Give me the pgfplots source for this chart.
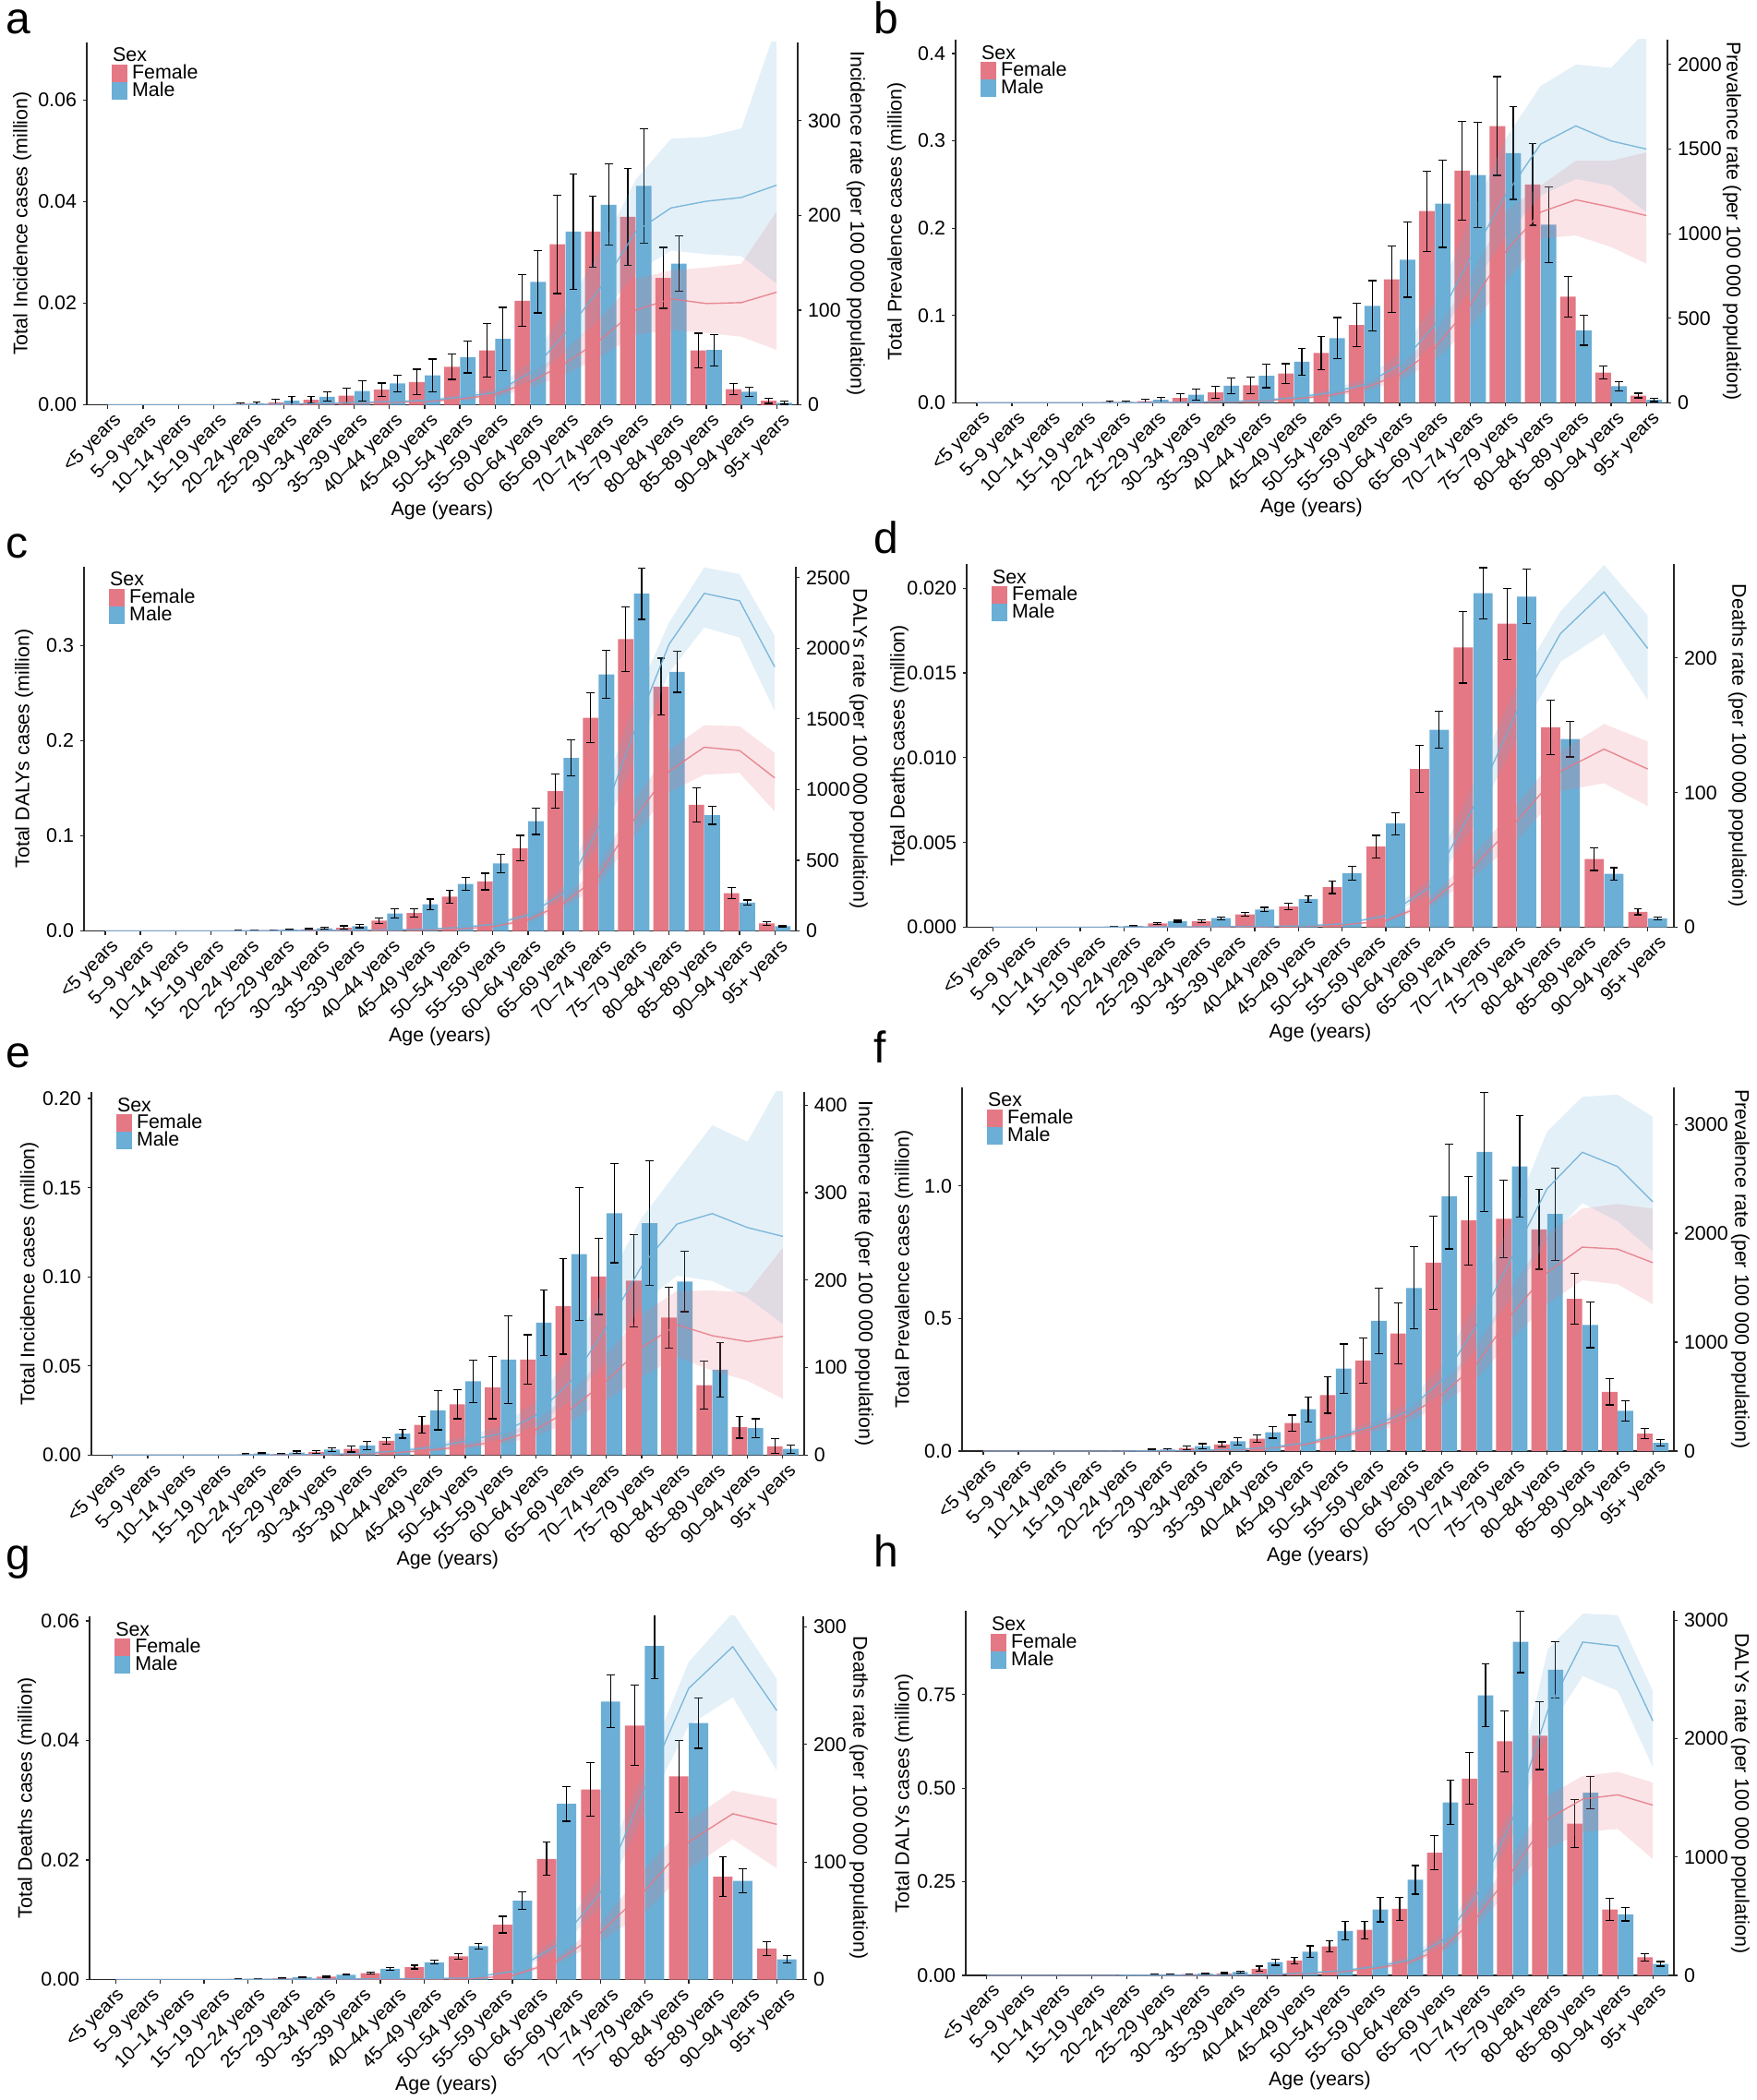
\documentclass[border=0pt]{standalone}
\usepackage{fontspec}
\setmainfont{Liberation Sans}
\usepackage{pgfplots}
\usepackage{pgfplotstable}
\pgfplotsset{compat=1.18}
\definecolor{fcol}{RGB}{228,120,133}
\definecolor{mcol}{RGB}{107,174,214}
\newcommand\fs{\fontsize{10.7}{12}\selectfont}
\newcommand\fx{\fontsize{10.2}{12}\selectfont}

% columns: x F Fe M Me Fr Frl Frh Mr Mrl Mrh
\pgfplotstableread{
x F Fe M Me Fr Frl Frh Mr Mrl Mrh
0 nan 0 nan 0 0 0 0 0 0 0
1 nan 0 nan 0 0 0 0 0 0 0
2 nan 0 nan 0 0 0 0 0 0 0
3 nan 0 nan 0 0 0 0 0 0 0
4 0.0002 0.0002 0.0003 0.0003 0.2 0.15 0.3 0.3 0.2 0.4
5 0.0005 0.0006 0.0008 0.0009 0.5 0.35 0.7 0.8 0.6 1.1
6 0.0010 0.0006 0.0016 0.0009 1 0.7 1.4 1.5 1.1 2
7 0.0018 0.0015 0.0027 0.0020 1.5 1.1 2 2.5 1.8 3.3
8 0.0030 0.0013 0.0042 0.0017 2.5 1.8 3.3 3.5 2.6 4.6
9 0.0045 0.0025 0.0058 0.0032 3.5 2.6 4.6 4.5 3.3 6
10 0.0075 0.0025 0.0094 0.0031 6 4.4 8 8 5.9 10.6
11 0.0107 0.0053 0.0130 0.0062 11 8 14.6 13 9.6 17.3
12 0.0205 0.0051 0.0242 0.0061 24 17.7 32 34 25 45
13 0.0316 0.0097 0.0341 0.0113 44 32.5 58.5 76 56 101
14 0.0341 0.0070 0.0394 0.0080 69 51 92 124 92 165
15 0.0370 0.0095 0.0431 0.0113 100 74 133 183 140 238
16 0.0250 0.0060 0.0278 0.0055 112 79 142 208 163 281
17 0.0107 0.0034 0.0108 0.0031 107 76 145 215 159 283
18 0.0031 0.0011 0.0026 0.0009 108 72 149 219 157 292
19 0.0008 0.0005 0.0004 0.0003 119 58 204 232 128 400
}\dataA

\pgfplotstableread{
x F Fe M Me Fr Frl Frh Mr Mrl Mrh
0 nan 0 nan 0 0 0 0 0 0 0
1 nan 0 nan 0 0 0 0 0 0 0
2 nan 0 nan 0 0 0 0 0 0 0
3 nan 0 nan 0 0 0 0 0 0 0
4 0.0008 0.0008 0.0011 0.0008 0.5 0.4 0.7 0.6 0.5 0.8
5 0.0020 0.0023 0.0034 0.0032 1 0.8 1.3 1.2 0.9 1.6
6 0.0057 0.0045 0.0094 0.0064 3 2.3 3.9 3.5 2.7 4.5
7 0.0120 0.0072 0.0196 0.0090 6 4.6 7.8 7 5.4 9
8 0.0200 0.0094 0.0310 0.0136 11 8.5 14 14 11 18
9 0.0336 0.0113 0.0470 0.0150 23 18 30 30 23 39
10 0.0570 0.0190 0.0740 0.0236 43 33 56 59 45 77
11 0.0890 0.0247 0.1110 0.0290 88 68 114 108 83 140
12 0.1415 0.0380 0.1640 0.0430 167 129 215 225 174 290
13 0.2196 0.0460 0.2280 0.0500 323 250 415 460 356 590
14 0.2660 0.0566 0.2610 0.0600 578 450 740 853 670 1090
15 0.3170 0.0566 0.2860 0.0530 892 710 1130 1225 980 1560
16 0.2500 0.0466 0.2040 0.0430 1127 970 1284 1529 1225 1872
17 0.1215 0.0230 0.0830 0.0170 1200 990 1431 1637 1323 2000
18 0.0347 0.0075 0.0190 0.0050 1157 921 1431 1548 1284 1980
19 0.0083 0.0026 0.0034 0.0019 1107 823 1480 1500 1127 2200
}\dataB

\pgfplotstableread{
x F Fe M Me Fr Frl Frh Mr Mrl Mrh
0 nan 0 nan 0 0 0 0 0 0 0
1 nan 0 nan 0 0 0 0 0 0 0
2 nan 0 nan 0 0 0 0 0 0 0
3 nan 0 nan 0 0 0 0 0 0 0
4 0.0003 0.0002 0.0007 0.0003 1 0.8 1.2 1.5 1.2 1.8
5 0.0007 0.0004 0.0014 0.0006 2 1.6 2.4 3 2.5 3.6
6 0.0017 0.0008 0.0028 0.0012 3 2.5 3.6 4 3.3 4.8
7 0.0035 0.0020 0.0052 0.0017 4 3.3 4.8 6 5 7.2
8 0.0110 0.0030 0.0184 0.0047 5 4.2 6 8 6.6 9.6
9 0.0190 0.0043 0.0280 0.0055 8 6.6 9.6 12 10 14.4
10 0.0360 0.0068 0.0495 0.0068 14 11.6 16.8 24 20 29
11 0.0520 0.0087 0.0710 0.0095 31 26 37 47 39 56
12 0.0870 0.0135 0.1153 0.0139 78 65 93 113 94 135
13 0.1470 0.0180 0.1818 0.0187 196 163 233 267 222 318
14 0.2240 0.0260 0.2695 0.0250 385 322 455 728 610 860
15 0.3066 0.0340 0.3543 0.0270 787 670 915 1402 1200 1620
16 0.2567 0.0300 0.2722 0.0215 1130 983 1277 2028 1827 2182
17 0.1327 0.0180 0.1216 0.0095 1300 1106 1456 2388 2147 2572
18 0.0398 0.0055 0.0298 0.0028 1277 1118 1449 2336 2076 2525
19 0.0080 0.0019 0.0052 0.0007 1083 846 1260 1868 1556 2087
}\dataC

\pgfplotstableread{
x F Fe M Me Fr Frl Frh Mr Mrl Mrh
0 nan 0 nan 0 0 0 0 0 0 0
1 nan 0 nan 0 0 0 0 0 0 0
2 nan 0 nan 0 0 0 0 0 0 0
3 0.00003 0.00001 0.00008 0.00002 0.1 0.08 0.12 0.2 0.16 0.24
4 0.00023 0.00004 0.00036 0.00005 0.2 0.17 0.24 0.3 0.25 0.36
5 0.00036 0.00007 0.00054 0.00008 0.3 0.25 0.36 0.5 0.42 0.6
6 0.00076 0.00012 0.00105 0.00013 0.5 0.42 0.6 0.8 0.67 0.96
7 0.00123 0.00018 0.00167 0.00020 0.7 0.58 0.84 1.0 0.84 1.2
8 0.00236 0.00037 0.00320 0.00040 1.7 1.4 2 2.5 2.1 3
9 0.00476 0.00066 0.00612 0.00065 4.9 4.1 5.9 8.6 7.2 10.3
10 0.00933 0.00139 0.01164 0.00109 18 15 21.6 29.6 25 35.5
11 0.01650 0.00210 0.01970 0.00150 44.3 37 53 88.7 75 106
12 0.01790 0.00210 0.01950 0.00160 78.8 64 91 160 140 180
13 0.01180 0.00160 0.01110 0.00105 115.8 101 130.5 218 197 234.5
14 0.00402 0.00067 0.00315 0.00037 132.3 107 151 249 218 269
15 0.00091 0.00017 0.00052 0.00010 117.5 90 138 207 168.7 231.5
}\dataD

\pgfplotstableread{
x F Fe M Me Fr Frl Frh Mr Mrl Mrh
0 nan 0 nan 0 0 0 0 0 0 0
1 nan 0 nan 0 0 0 0 0 0 0
2 nan 0 nan 0 0 0 0 0 0 0
3 nan 0 nan 0 0 0 0 0 0 0
4 0.0004 0.0003 0.0009 0.0004 0.1 0.07 0.14 0.3 0.2 0.4
5 0.0007 0.0005 0.0015 0.0008 0.2 0.15 0.28 0.5 0.37 0.68
6 0.0018 0.0006 0.0031 0.0009 0.5 0.37 0.68 0.8 0.6 1.1
7 0.0035 0.0017 0.0054 0.0025 1.2 0.9 1.6 1.9 1.4 2.6
8 0.0081 0.0019 0.0120 0.0025 2.7 2 3.6 4.5 3.3 6
9 0.0170 0.0045 0.0251 0.0109 5.7 4.2 7.7 8.7 6.4 11.7
10 0.0285 0.0081 0.0414 0.0118 10 7.4 13.5 16 11.8 21.6
11 0.0379 0.0175 0.0536 0.0245 16.3 12 22 24.6 18 33
12 0.0536 0.0139 0.0743 0.0183 29 21.5 39 45.5 33.7 61
13 0.0835 0.0269 0.1128 0.0372 53 39 71.5 85 63 115
14 0.1002 0.0213 0.1357 0.0278 85 63 115 146 108 197
15 0.0978 0.0260 0.1301 0.0348 123 89 161 216 172.5 271
16 0.0771 0.0171 0.0974 0.0169 149 112 187.7 264 205 324
17 0.0392 0.0134 0.0479 0.0154 136.5 96.7 188 276 199 377
18 0.0157 0.0062 0.0152 0.0052 129.7 85 186 260 180 358
19 0.0050 0.0042 0.0035 0.0023 135.7 64.5 237 250 150 430
}\dataE

\pgfplotstableread{
x F Fe M Me Fr Frl Frh Mr Mrl Mrh
0 nan 0 nan 0 0 0 0 0 0 0
1 nan 0 nan 0 0 0 0 0 0 0
2 nan 0 nan 0 0 0 0 0 0 0
3 nan 0 nan 0 0 0 0 0 0 0
4 0.001 0.001 0.0015 0.0015 0.3 0.24 0.36 0.4 0.32 0.48
5 0.004 0.003 0.006 0.004 1 0.8 1.2 2 1.6 2.4
6 0.012 0.006 0.019 0.009 3 2.4 3.6 5 4 6
7 0.025 0.010 0.037 0.014 9 7.4 10.8 15 12 18
8 0.047 0.015 0.071 0.022 24 20 29 30 25 36
9 0.106 0.030 0.158 0.047 55 45 66 68 56 82
10 0.211 0.068 0.311 0.093 116 95 139 135 110 162
11 0.342 0.085 0.491 0.124 207 170 248 222 182 266
12 0.4435 0.115 0.615 0.155 314 257 377 359 294 431
13 0.7106 0.175 0.960 0.1975 512 420 614 649 532 779
14 0.8696 0.167 1.128 0.2255 801 657 961 1151 944 1381
15 0.8758 0.146 1.073 0.192 1258 1032 1510 1776 1425 2141
16 0.836 0.150 0.894 0.174 1639 1349 1989 2409 1928 2933
17 0.574 0.095 0.476 0.086 1873 1569 2227 2744 2278 3253
18 0.2236 0.0497 0.1516 0.0379 1855 1532 2269 2613 2111 3274
19 0.0658 0.0186 0.031 0.0124 1730 1349 2227 2288 1837 3070
}\dataF

\pgfplotstableread{
x F Fe M Me Fr Frl Frh Mr Mrl Mrh
0 nan 0 nan 0 0 0 0 0 0 0
1 nan 0 nan 0 0 0 0 0 0 0
2 nan 0 nan 0 0 0 0 0 0 0
3 0.0001 0.00005 0.0001 0.00005 0.1 0.08 0.12 0.15 0.12 0.18
4 0.0002 0.00005 0.00044 0.00005 0.2 0.16 0.24 0.3 0.25 0.36
5 0.0005 0.0001 0.00083 0.0001 0.3 0.25 0.36 0.5 0.4 0.6
6 0.0011 0.0002 0.0018 0.0002 0.4 0.33 0.48 0.7 0.58 0.84
7 0.0021 0.0003 0.0029 0.0003 0.5 0.4 0.6 0.9 0.75 1.1
8 0.0039 0.0005 0.0056 0.0005 0.6 0.5 0.72 1.4 1.15 1.7
9 0.0092 0.0014 0.0132 0.0015 3.4 2.8 4.1 7 5.8 8.4
10 0.0202 0.0028 0.0294 0.0029 15.6 13 18.7 29 24 35
11 0.0318 0.0045 0.0465 0.0044 40 33 48 74 62 89
12 0.0425 0.0067 0.0558 0.0055 75.6 57 94 162 142 179
13 0.0340 0.0060 0.0429 0.0042 117 94 135 247.6 216 270
14 0.0172 0.0033 0.0165 0.0020 141 119.5 160.6 283 240 312
15 0.0052 0.0012 0.0034 0.0006 132 94.6 153.5 228.6 177.6 255.5
}\dataG

\pgfplotstableread{
x F Fe M Me Fr Frl Frh Mr Mrl Mrh
0 nan 0 nan 0 0 0 0 0 0 0
1 nan 0 nan 0 0 0 0 0 0 0
2 nan 0 nan 0 0 0 0 0 0 0
3 nan 0 nan 0 0 0 0 0 0 0
4 0.0005 0.0004 0.0010 0.0006 0.5 0.4 0.6 0.8 0.6 1
5 0.002 0.001 0.003 0.0015 1 0.8 1.2 1.5 1.2 1.8
6 0.0035 0.001 0.0044 0.002 1.5 1.2 1.8 2 1.6 2.4
7 0.0053 0.002 0.0088 0.003 2 1.6 2.4 3 2.5 3.6
8 0.0176 0.007 0.0352 0.008 6 5 7.2 8 6.6 9.6
9 0.0396 0.0088 0.0634 0.0154 14 11.6 16.8 20 16.6 24
10 0.0775 0.015 0.1188 0.0246 28 23 34 37 31 44
11 0.1215 0.0233 0.176 0.033 56 46 67 70 58 84
12 0.1778 0.0308 0.2553 0.0383 105 87 126 126 105 151
13 0.3275 0.0453 0.462 0.0594 230 193 275 295 250 350
14 0.5255 0.069 0.748 0.0836 500 425 580 688 590 790
15 0.625 0.0814 0.891 0.0823 885 752 1018 1320 1190 1450
16 0.640 0.0902 0.816 0.0761 1320 1067 1517 2233 2065 2753
17 0.405 0.0643 0.4877 0.0431 1489 1213 1685 2815 2528 3056
18 0.176 0.0295 0.163 0.0176 1525 1236 1719 2781 2402 3042
19 0.0484 0.0097 0.0308 0.0062 1438 983 1629 2149 1756 2402
}\dataH

\pgfplotsset{
  common/.style={scale only axis, anchor=south west, scaled y ticks=false,
    axis line style={black!85, line width=0.7pt},
    every tick/.style={black!85, line width=0.6pt},
    major tick length=2pt, minor tick length=2pt, tick align=outside,
    tick label style={font=\fs, text=black}, label style={font=\fs}},
  barax/.style={common, axis x line*=bottom, axis y line*=left, ymin=0,
    xlabel={Age (years)},
    xlabel style={at={([yshift=-57pt]axis description cs:0.5,0)}, anchor=center},
    xticklabel style={font=\fx, xshift=2.5pt, rotate=45, anchor=north east, inner sep=1pt},
    legend style={at={(0.035,0.985)}, anchor=north west, draw=none, fill=none,
      font=\fs, row sep=0pt, inner sep=0pt,
      nodes={inner ysep=0pt, inner xsep=2.5pt, minimum height=9pt}},
    legend cell align=left},
  lyl/.style={ylabel style={at={([xshift=-#1]axis description cs:0,0.5)}, anchor=center}},
  ryl/.style={ylabel style={at={([xshift=#1]axis description cs:1,0.5)}, anchor=center}},
  twenty/.style={xmin=-0.6, xmax=19.6, xtick={0,...,19},
    xticklabels={<5 years,5–9 years,10–14 years,15–19 years,20–24 years,25–29 years,30–34 years,35–39 years,40–44 years,45–49 years,50–54 years,55–59 years,60–64 years,65–69 years,70–74 years,75–79 years,80–84 years,85–89 years,90–94 years,95+ years}},
  sixteen/.style={xmin=-0.6, xmax=15.6,
    xtick={-0.1188,0.6832,1.4851,2.2871,3.0891,3.8911,4.6931,5.4950,6.2970,7.0990,7.9010,8.7030,9.5050,10.3069,11.1089,11.9109,12.7129,13.5149,14.3168,15.1188},
    xticklabels={<5 years,5–9 years,10–14 years,15–19 years,20–24 years,25–29 years,30–34 years,35–39 years,40–44 years,45–49 years,50–54 years,55–59 years,60–64 years,65–69 years,70–74 years,75–79 years,80–84 years,85–89 years,90–94 years,95+ years},
    major x tick style={draw=none},
    minor xtick={0,...,15}},
  rateax/.style={common, axis x line=none, axis y line*=right, ylabel style={rotate=180}},
  bandax/.style={scale only axis, anchor=south west, hide axis, stack plots=y, clip=true},
  legF/.style={legend image code/.code={\fill[fcol] (0pt,-4.5pt) rectangle (8pt,4.5pt);}},
  legM/.style={legend image code/.code={\fill[mcol] (0pt,-4.5pt) rectangle (8pt,4.5pt);}},
  posA/.style={at={(47pt,-219.3pt)}, width=385pt, height=196.45pt},
  posB/.style={at={(517.5pt,-218.2pt)}, width=385.5pt, height=196.75pt},
  posC/.style={at={(45.5pt,-504.3pt)}, width=385.5pt, height=197.5pt},
  posD/.style={at={(523.5pt,-502.3pt)}, width=383pt, height=196.8pt},
  posE/.style={at={(49.4pt,-788.2pt)}, width=386pt, height=196.75pt},
  posF/.style={at={(521pt,-786pt)}, width=385.5pt, height=197.25pt},
  posG/.style={at={(48.5pt,-1072.3pt)}, width=386.5pt, height=196.95pt},
  posH/.style={at={(523pt,-1070pt)}, width=383.5pt, height=197.3pt},
}

\newcommand\sexlegend{%
  \addlegendimage{empty legend}\addlegendentry{\hspace{-10.5pt}Sex\rule[-3pt]{0pt}{3pt}}
  \addlegendimage{legF}\addlegendentry{Female}
  \addlegendimage{legM}\addlegendentry{Male}}

\newcommand\bars[1]{%
  \addplot[ybar, bar width=0.44, bar shift=0pt, fill=fcol, draw=none, forget plot,
    error bars/.cd, y dir=both, y explicit,
    error bar style={black, line width=0.6pt},
    error mark options={rotate=90, mark size=2.2pt, line width=0.6pt, black}]
    table[x expr=\thisrow{x}-0.225, y=F, y error=Fe]{#1};
  \addplot[ybar, bar width=0.44, bar shift=0pt, fill=mcol, draw=none, forget plot,
    error bars/.cd, y dir=both, y explicit,
    error bar style={black, line width=0.6pt},
    error mark options={rotate=90, mark size=2.2pt, line width=0.6pt, black}]
    table[x expr=\thisrow{x}+0.225, y=M, y error=Me]{#1};
  \sexlegend}

\newcommand\bands[2]{%
  \begin{axis}[bandax,#1]
  \addplot[draw=none] table[x=x, y=Frl]{#2};
  \addplot[fill=fcol, fill opacity=0.2, draw=none] table[x=x, y expr=\thisrow{Frh}-\thisrow{Frl}]{#2} \closedcycle;
  \end{axis}
  \begin{axis}[bandax,#1]
  \addplot[draw=none] table[x=x, y=Mrl]{#2};
  \addplot[fill=mcol, fill opacity=0.18, draw=none] table[x=x, y expr=\thisrow{Mrh}-\thisrow{Mrl}]{#2} \closedcycle;
  \end{axis}}

\newcommand\rates[1]{%
  \addplot[fcol, line width=0.7pt, opacity=0.85] table[x=x, y=Fr]{#1};
  \addplot[mcol, line width=0.7pt, opacity=0.85] table[x=x, y=Mr]{#1};}

\newcommand\plab[3]{\node[anchor=base west, inner sep=0pt, font=\fontsize{24}{24}\selectfont] at (#1,#2) {#3};}

\begin{document}
\begin{tikzpicture}
\useasboundingbox (0,0) rectangle (951pt,-1137.5pt);

% ---------- a ----------
\begin{axis}[barax, twenty, posA, lyl=35pt,
  ymax=0.0714, ytick={0,0.02,0.04,0.06}, yticklabels={0.00,0.02,0.04,0.06},
  ylabel={Total Incidence cases (million)}]
\bars{\dataA}
\end{axis}
\bands{posA, xmin=-0.6, xmax=19.6, ymin=0, ymax=383}{\dataA}
\begin{axis}[rateax, posA, ryl=31.5pt, xmin=-0.6, xmax=19.6, ymin=0, ymax=383,
  ytick={0,100,200,300}, yticklabels={0,100,200,300},
  ylabel={Incidence rate (per 100 000 population)}]
\rates{\dataA}
\end{axis}

% ---------- b ----------
\begin{axis}[barax, twenty, posB, lyl=32pt,
  ymax=0.416, ytick={0,0.1,0.2,0.3,0.4}, yticklabels={0.0,0.1,0.2,0.3,0.4},
  ylabel={Total Prevalence cases (million)}]
\bars{\dataB}
\end{axis}
\bands{posB, xmin=-0.6, xmax=19.6, ymin=0, ymax=2147}{\dataB}
\begin{axis}[rateax, posB, ryl=35pt, xmin=-0.6, xmax=19.6, ymin=0, ymax=2147,
  ytick={0,500,1000,1500,2000}, yticklabels={0,500,1000,1500,2000},
  ylabel={Prevalence rate (per 100 000 population)}]
\rates{\dataB}
\end{axis}

% ---------- c ----------
\begin{axis}[barax, twenty, posC, lyl=32.5pt,
  ymax=0.383, ytick={0,0.1,0.2,0.3}, yticklabels={0.0,0.1,0.2,0.3},
  ylabel={Total DALYs cases (million)}]
\bars{\dataC}
\end{axis}
\bands{posC, xmin=-0.6, xmax=19.6, ymin=0, ymax=2579}{\dataC}
\begin{axis}[rateax, posC, ryl=34pt, xmin=-0.6, xmax=19.6, ymin=0, ymax=2579,
  ytick={0,500,1000,1500,2000,2500}, yticklabels={0,500,1000,1500,2000,2500},
  ylabel={DALYs rate (per 100 000 population)}]
\rates{\dataC}
\end{axis}

% ---------- d ----------
\begin{axis}[barax, sixteen, posD, lyl=36.5pt,
  ymax=0.02142, ytick={0,0.005,0.01,0.015,0.02}, yticklabels={0.000,0.005,0.010,0.015,0.020},
  ylabel={Total Deaths cases (million)}]
\bars{\dataD}
\end{axis}
\bands{posD, xmin=-0.6, xmax=15.6, ymin=0, ymax=269.7}{\dataD}
\begin{axis}[rateax, posD, ryl=34.5pt, xmin=-0.6, xmax=15.6, ymin=0, ymax=269.7,
  ytick={0,100,200}, yticklabels={0,100,200},
  ylabel={Deaths rate (per 100 000 population)}]
\rates{\dataD}
\end{axis}

% ---------- e ----------
\begin{axis}[barax, twenty, posE, lyl=33.5pt,
  ymax=0.2037, ytick={0,0.05,0.1,0.15,0.2}, yticklabels={0.00,0.05,0.10,0.15,0.20},
  ylabel={Total Incidence cases (million)}]
\bars{\dataE}
\end{axis}
\bands{posE, xmin=-0.6, xmax=19.6, ymin=0, ymax=415}{\dataE}
\begin{axis}[rateax, posE, ryl=32.5pt, xmin=-0.6, xmax=19.6, ymin=0, ymax=415,
  ytick={0,100,200,300,400}, yticklabels={0,100,200,300,400},
  ylabel={Incidence rate (per 100 000 population)}]
\rates{\dataE}
\end{axis}

% ---------- f ----------
\begin{axis}[barax, twenty, posF, lyl=31.5pt,
  ymax=1.373, ytick={0,0.5,1}, yticklabels={0.0,0.5,1.0},
  ylabel={Total Prevalence cases (million)}]
\bars{\dataF}
\end{axis}
\bands{posF, xmin=-0.6, xmax=19.6, ymin=0, ymax=3344}{\dataF}
\begin{axis}[rateax, posF, ryl=36pt, xmin=-0.6, xmax=19.6, ymin=0, ymax=3344,
  ytick={0,1000,2000,3000}, yticklabels={0,1000,2000,3000},
  ylabel={Prevalence rate (per 100 000 population)}]
\rates{\dataF}
\end{axis}

% ---------- g ----------
\begin{axis}[barax, sixteen, posG, lyl=34pt,
  ymax=0.0608, ytick={0,0.02,0.04,0.06}, yticklabels={0.00,0.02,0.04,0.06},
  ylabel={Total Deaths cases (million)}]
\bars{\dataG}
\end{axis}
\bands{posG, xmin=-0.6, xmax=15.6, ymin=0, ymax=309}{\dataG}
\begin{axis}[rateax, posG, ryl=30pt, xmin=-0.6, xmax=15.6, ymin=0, ymax=309,
  ytick={0,100,200,300}, yticklabels={0,100,200,300},
  ylabel={Deaths rate (per 100 000 population)}]
\rates{\dataG}
\end{axis}

% ---------- h ----------
\begin{axis}[barax, twenty, posH, lyl=33.5pt,
  ymax=0.9727, ytick={0,0.25,0.5,0.75}, yticklabels={0.00,0.25,0.50,0.75},
  ylabel={Total DALYs cases (million)}]
\bars{\dataH}
\end{axis}
\bands{posH, xmin=-0.6, xmax=19.6, ymin=0, ymax=3076}{\dataH}
\begin{axis}[rateax, posH, ryl=36pt, xmin=-0.6, xmax=19.6, ymin=0, ymax=3076,
  ytick={0,1000,2000,3000}, yticklabels={0,1000,2000,3000},
  ylabel={DALYs rate (per 100 000 population)}]
\rates{\dataH}
\end{axis}

\plab{3pt}{-18pt}{a}
\plab{473pt}{-18pt}{b}
\plab{3pt}{-302pt}{c}
\plab{473pt}{-299.5pt}{d}
\plab{3pt}{-578pt}{e}
\plab{473pt}{-575.5pt}{f}
\plab{3pt}{-850pt}{g}
\plab{473pt}{-848.5pt}{h}
\end{tikzpicture}
\end{document}
